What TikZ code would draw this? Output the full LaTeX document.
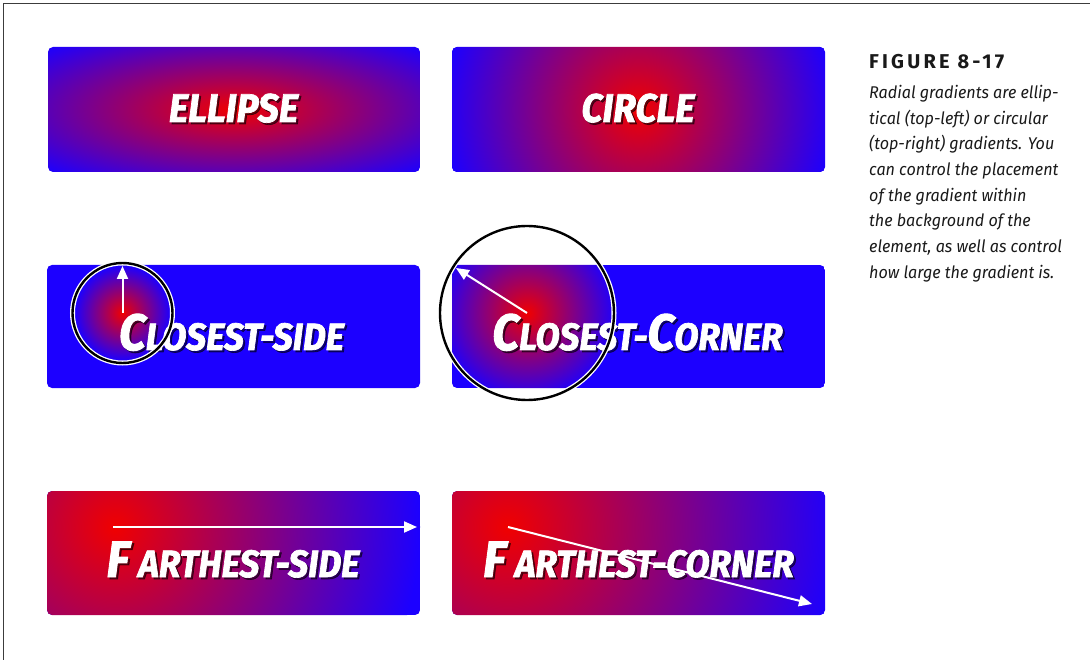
\documentclass[tikz,border=0pt]{standalone}
\usepackage{fontspec}
\usetikzlibrary{arrows.meta}
\newfontfamily\labfont[FakeStretch=0.93,FakeBold=1.8]{Fira Sans}
\newfontfamily\capfont[FakeStretch=0.95]{Fira Sans}
\newfontfamily\figfont[LetterSpace=16]{Fira Sans}
\definecolor{gred}{RGB}{240,0,0}
\definecolor{gblue}{RGB}{28,0,255}
\definecolor{framecol}{RGB}{60,60,60}
\pgfdeclareradialshading{rbcirc}{\pgfpoint{0bp}{0bp}}{color(0bp)=(gred); color(25bp)=(gblue); color(50bp)=(gblue)}
\pgfdeclareradialshading{rbell}{\pgfpoint{0bp}{0bp}}{color(0bp)=(gred); color(35.36bp)=(gblue); color(50bp)=(gblue)}
\newcommand{\LbBig}[1]{{\fontsize{51}{51}\selectfont #1}}
\newcommand{\LbSm}[1]{{\fontsize{38}{38}\selectfont #1}}
\tikzset{
  boxshape/.style={rounded corners=5pt},
  lbl/.style={anchor=base, inner sep=0pt, text=white, font=\labfont\bfseries\itshape},
  lblshadow/.style={anchor=base, inner sep=0pt, text=black, opacity=0.55, font=\labfont\bfseries\itshape},
  whitearrow/.style={draw=white, line width=2pt, -{Triangle[length=13pt,width=11pt]}},
  ringhalo/.style={draw=white, line width=5pt},
  ring/.style={draw=black, line width=2.4pt},
}
\begin{document}
\begin{tikzpicture}[x=1pt,y=-1pt]
\useasboundingbox (0,0) rectangle (1090,660);
\fill[white] (0,0) rectangle (1090,660);
% frame
\draw[framecol, line width=1.6pt] (3.5,660) -- (3.5,3.5) -- (1090,3.5);

% ---- ELLIPSE
\shade[shading=rbell, boxshape] (48,47) rectangle (420,172);
\node[lblshadow] (e0) at (235.5,124) {\fontsize{40}{40}\selectfont ELLIPSE};
\node[lbl] (e1) at (233.5,122) {\fontsize{40}{40}\selectfont ELLIPSE};

% ---- CIRCLE
\begin{scope}
\clip[boxshape] (452,47) rectangle (825,172);
\fill[gblue] (452,47) rectangle (825,172);
\shade[shading=rbcirc] (638.5,109.5) circle[radius=196.5];
\end{scope}
\node[lblshadow] (c0) at (640,124) {\fontsize{40}{40}\selectfont CIRCLE};
\node[lbl] (c1) at (638,122) {\fontsize{40}{40}\selectfont CIRCLE};

% ---- CLOSEST-SIDE
\fill[gblue, boxshape] (47,265) rectangle (420,388);
\shade[shading=rbcirc] (122.5,313) circle[radius=48];
\node[lblshadow] (cs0) at (233.5,352) {\LbBig{C}\LbSm{LOSEST-SIDE}};
\node[lbl] (cs1) at (231.5,350) {\LbBig{C}\LbSm{LOSEST-SIDE}};
\draw[ringhalo] (122.5,313) circle[radius=50];
\draw[ring] (122.5,313) circle[radius=50];
\coordinate (csA) at (122.5,313);
\coordinate (csB) at (122.5,266);
\draw[whitearrow] (csA) -- (csB);

% ---- CLOSEST-CORNER
\begin{scope}
\clip[boxshape] (452,265) rectangle (825,388);
\fill[gblue] (452,265) rectangle (825,388);
\shade[shading=rbcirc] (527,313) circle[radius=89];
\end{scope}
\node[lblshadow] (cc0) at (639.5,352) {\LbBig{C}\LbSm{LOSEST-}\LbBig{C}\LbSm{ORNER}};
\node[lbl] (cc1) at (637.5,350) {\LbBig{C}\LbSm{LOSEST-}\LbBig{C}\LbSm{ORNER}};
\draw[ringhalo] (527,313) circle[radius=87];
\draw[ring] (527,313) circle[radius=87];
\coordinate (ccA) at (527,313);
\coordinate (ccB) at (456,268);
\draw[whitearrow] (ccA) -- (ccB);

% ---- FARTHEST-SIDE
\begin{scope}
\clip[boxshape] (47,491) rectangle (420,615);
\fill[gblue] (47,491) rectangle (420,615);
\shade[shading=rbcirc] (115,527) circle[radius=305];
\end{scope}
\node[lblshadow] (fs0) at (235,579) {\LbBig{F}\hspace{9pt}\LbSm{ARTHEST-SIDE}};
\node[lbl] (fs1) at (233,577) {\LbBig{F}\hspace{9pt}\LbSm{ARTHEST-SIDE}};
\coordinate (fsA) at (113,527);
\coordinate (fsB) at (417,527);
\draw[whitearrow] (fsA) -- (fsB);

% ---- FARTHEST-CORNER
\begin{scope}
\clip[boxshape] (452,491) rectangle (825,615);
\fill[gblue] (452,491) rectangle (825,615);
\shade[shading=rbcirc] (508,527) circle[radius=330];
\end{scope}
\node[lblshadow] (fc0) at (640.5,579) {\LbBig{F}\hspace{9pt}\LbSm{ARTHEST-CORNER}};
\node[lbl] (fc1) at (638.5,577) {\LbBig{F}\hspace{9pt}\LbSm{ARTHEST-CORNER}};
\coordinate (fcA) at (508,527);
\coordinate (fcB) at (812,604);
\draw[whitearrow] (fcA) -- (fcB);

% ---- caption
\node[anchor=base west, inner sep=0pt, font=\figfont\bfseries\fontsize{20}{20}\selectfont, text=black!90] (fig) at (869,69) {FIGURE 8-17};
\node[anchor=north west, inner sep=0pt, align=left, text=black!90,
      font=\capfont\itshape\fontsize{17}{25.7}\selectfont] (cap) at (869,85)
 {Radial gradients are ellip-\\
  tical (top-left) or circular\\
  (top-right) gradients. You\\
  can control the placement\\
  of the gradient within\\
  the background of the\\
  element, as well as control\\
  how large the gradient is.};
\end{tikzpicture}
\end{document}
